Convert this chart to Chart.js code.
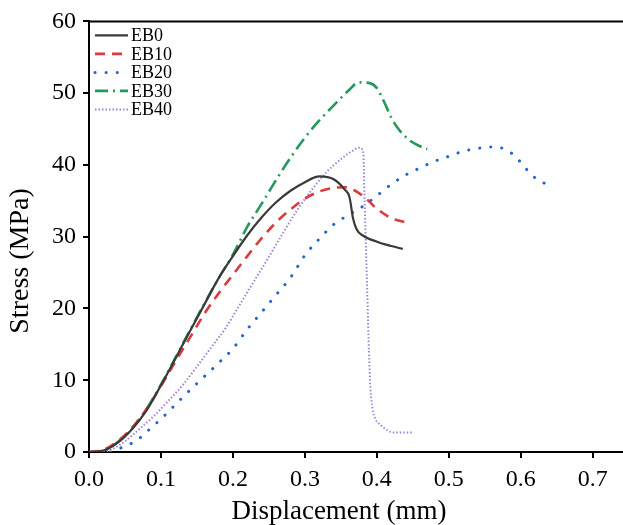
<!DOCTYPE html>
<html>
<head>
<meta charset="utf-8">
<script src="https://cdn.jsdelivr.net/npm/chart.js@4"></script>
<style>
  html, body { margin: 0; padding: 0; background: #fff; }
  #wrap { width: 623px; height: 525px; }
</style>
</head>
<body>
<div id="wrap"><canvas id="myChart" width="623" height="525"></canvas></div>
<script>
// stress-displacement curves
const eb0X = [0, 0.02, 0.04, 0.06, 0.08, 0.10, 0.12, 0.14, 0.16, 0.18, 0.20, 0.22, 0.24, 0.26, 0.28, 0.30, 0.32, 0.34, 0.355, 0.362, 0.367, 0.372, 0.38, 0.40, 0.42, 0.436];
const eb0Y = [0, 0.2, 1.3, 3.2, 5.8, 9.3, 13.0, 16.8, 20.5, 24.2, 27.3, 30.2, 32.7, 34.8, 36.4, 37.6, 38.4, 38.0, 36.6, 35.5, 32.5, 31.0, 30.2, 29.3, 28.7, 28.3];

const eb10X = [0, 0.02, 0.04, 0.06, 0.08, 0.10, 0.12, 0.14, 0.16, 0.18, 0.20, 0.22, 0.24, 0.26, 0.28, 0.30, 0.32, 0.34, 0.355, 0.37, 0.385, 0.40, 0.42, 0.446];
const eb10Y = [0, 0.3, 1.5, 3.4, 6.0, 9.2, 12.6, 15.9, 19.2, 22.1, 24.7, 27.3, 29.8, 32.0, 33.8, 35.3, 36.3, 36.8, 36.9, 36.4, 35.3, 33.9, 32.6, 31.9];

const eb20X = [0.03, 0.04, 0.055, 0.07, 0.08, 0.10, 0.12, 0.14, 0.16, 0.18, 0.20, 0.22, 0.24, 0.26, 0.28, 0.30, 0.32, 0.34, 0.36, 0.38, 0.40, 0.42, 0.44, 0.46, 0.48, 0.50, 0.52, 0.54, 0.56, 0.575, 0.59, 0.603, 0.615, 0.63, 0.646];
const eb20Y = [0, 0.4, 1.0, 1.9, 2.8, 4.6, 6.6, 8.6, 10.5, 12.4, 14.4, 17.1, 19.5, 21.9, 24.3, 27.4, 29.7, 31.7, 33.0, 34.2, 35.7, 37.3, 38.6, 39.6, 40.5, 41.2, 41.9, 42.3, 42.5, 42.3, 41.4, 40.0, 38.6, 37.6, 36.9];

const eb30X = [0, 0.02, 0.04, 0.06, 0.08, 0.10, 0.12, 0.14, 0.16, 0.18, 0.20, 0.22, 0.24, 0.26, 0.28, 0.30, 0.32, 0.34, 0.36, 0.375, 0.39, 0.40, 0.41, 0.42, 0.43, 0.446, 0.46, 0.47];
const eb30Y = [0, 0.2, 1.4, 3.3, 6.0, 9.4, 13.1, 16.9, 20.6, 24.2, 27.5, 31.4, 34.6, 37.9, 41.0, 43.8, 46.2, 48.3, 50.3, 51.5, 51.4, 50.7, 48.8, 46.6, 45.0, 43.4, 42.6, 42.2];

const eb40X = [0.02, 0.03, 0.05, 0.07, 0.09, 0.11, 0.13, 0.15, 0.17, 0.19, 0.21, 0.23, 0.25, 0.27, 0.29, 0.31, 0.33, 0.35, 0.365, 0.376, 0.381, 0.383, 0.385, 0.387, 0.389, 0.391, 0.394, 0.398, 0.405, 0.415, 0.425, 0.451];
const eb40Y = [0, 0.3, 1.5, 3.2, 5.0, 7.1, 9.3, 11.9, 14.6, 17.3, 20.6, 23.9, 27.2, 30.6, 33.8, 36.6, 39.0, 40.8, 41.9, 42.4, 41.8, 35, 28, 21, 14, 9, 6, 4.6, 3.8, 3.0, 2.7, 2.7];

const seriesNames = ["EB0", "EB10", "EB20", "EB30", "EB40"];
const xTicks = [0, 0.1, 0.2, 0.3, 0.4, 0.5, 0.6, 0.7];
const yTicks = [0, 10, 20, 30, 40, 50, 60];
const xTitle = "Displacement (mm)";
const yTitle = "Stress (MPa)";

const serif = "'Liberation Serif', 'Times New Roman', serif";

function toPoints(xs, ys) {
  return xs.map(function(x, i) { return {x: x, y: ys[i]}; });
}

const data = {
  datasets: [
    {
      label: seriesNames[0],
      data: toPoints(eb0X, eb0Y),
      borderColor: "#3a3a3a",
      borderWidth: 2.2
    },
    {
      label: seriesNames[1],
      data: toPoints(eb10X, eb10Y),
      borderColor: "#dc3a3c",
      borderWidth: 2.6,
      borderDash: [10, 7]
    },
    {
      label: seriesNames[2],
      data: toPoints(eb20X, eb20Y),
      borderColor: "#2264c8",
      borderWidth: 3,
      borderDash: [0.1, 11],
      borderCapStyle: "round"
    },
    {
      label: seriesNames[3],
      data: toPoints(eb30X, eb30Y),
      borderColor: "#23995a",
      borderWidth: 2.6,
      borderDash: [13, 5, 2, 5]
    },
    {
      label: seriesNames[4],
      data: toPoints(eb40X, eb40Y),
      borderColor: "#a184d4",
      borderWidth: 2,
      borderDash: [1.5, 2]
    }
  ]
};

// top frame line, axis titles and the little legend in the corner
const extras = {
  id: "extras",
  afterDraw: function(chart) {
    const ctx = chart.ctx;
    const a = chart.chartArea;
    ctx.save();
    ctx.strokeStyle = "#000";
    ctx.lineWidth = 2;
    ctx.beginPath();
    ctx.moveTo(a.left - 1, a.top);
    ctx.lineTo(chart.width, a.top);
    ctx.stroke();

    // axis titles
    ctx.fillStyle = "#000";
    ctx.font = "27px " + serif;
    ctx.textAlign = "center";
    ctx.textBaseline = "alphabetic";
    ctx.fillText(xTitle, 339, 519);

    ctx.save();
    ctx.translate(27.5, 261);
    ctx.rotate(-Math.PI / 2);
    ctx.font = "28px " + serif;
    ctx.fillText(yTitle, 0, 0);
    ctx.restore();

    // legend
    ctx.font = "18px " + serif;
    ctx.textAlign = "left";
    ctx.textBaseline = "middle";
    chart.data.datasets.forEach(function(ds, i) {
      const y = a.top + 14 + i * 18.5;
      ctx.save();
      ctx.strokeStyle = ds.borderColor;
      ctx.lineWidth = ds.borderWidth;
      ctx.lineCap = ds.borderCapStyle || "butt";
      ctx.setLineDash(ds.borderDash || []);
      ctx.beginPath();
      ctx.moveTo(a.left + 6, y);
      ctx.lineTo(a.left + 39, y);
      ctx.stroke();
      ctx.restore();
      ctx.fillText(ds.label, a.left + 42, y + 1);
    });
    ctx.restore();
  }
};

const config = {
  type: "line",
  data: data,
  options: {
    responsive: false,
    animation: false,
    layout: { padding: { top: 18, right: 0, left: 0, bottom: 0 } },
    elements: {
      point: { radius: 0 },
      line: { cubicInterpolationMode: "monotone", fill: false }
    },
    plugins: {
      tooltip: { enabled: false },
      legend: { display: false }
    },
    scales: {
      x: {
        type: "linear",
        min: 0,
        max: 0.742,
        afterFit: function(scale) { scale.height = 73; },
        afterBuildTicks: function(scale) {
          scale.ticks = xTicks.map(function(v) { return {value: v}; });
        },
        ticks: {
          includeBounds: false,
          color: "#000",
          padding: 7,
          maxRotation: 0,
          font: { family: serif, size: 24 },
          callback: function(v) { return Number(v).toFixed(1); }
        },
        grid: { display: true, drawOnChartArea: false, drawTicks: true, tickLength: 6, color: "#000", lineWidth: 2 },
        border: { display: true, color: "#000", width: 2 }
      },
      y: {
        type: "linear",
        min: 0,
        max: 60,
        afterFit: function(scale) { scale.width = 89; },
        afterBuildTicks: function(scale) {
          scale.ticks = yTicks.map(function(v) { return {value: v}; });
        },
        ticks: {
          color: "#000",
          padding: 7,
          font: { family: serif, size: 24 }
        },
        grid: { display: true, drawOnChartArea: false, drawTicks: true, tickLength: 6, color: "#000", lineWidth: 2 },
        border: { display: true, color: "#000", width: 2 }
      }
    }
  },
  plugins: [extras]
};

var myChart = new Chart(document.getElementById("myChart"), config);
</script>
</body>
</html>
